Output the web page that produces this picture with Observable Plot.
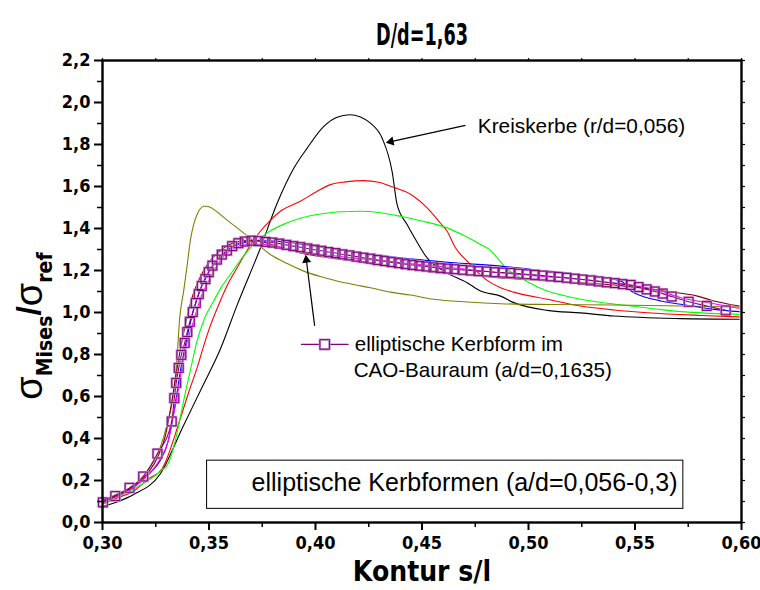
<!DOCTYPE html>
<html><head><meta charset="utf-8">
<script src="https://cdn.jsdelivr.net/npm/d3@7"></script>
<script src="https://cdn.jsdelivr.net/npm/@observablehq/plot@0.6"></script>
<style>body{margin:0;background:#fff}</style>
</head><body><div id="chart"></div>
<script>
// ---- data (x = Kontur s/l, y = sigma_Mises / sigma_ref) ----
const kreis_x = [0.3000,0.3075,0.3146,0.3271,0.3380,0.3467,0.3553,0.3632,0.3741,0.3820,0.3900,0.3961,0.4039,0.4098,0.4161,0.4211,0.4258,0.4313,0.4360,0.4383,0.4430,0.4469,0.4524,0.4602,0.4712,0.4775,0.4869,0.4931,0.5088,0.5245,0.5401,0.5715,0.5989];
const kreis_y = [0.076,0.100,0.133,0.231,0.461,0.643,0.825,1.035,1.306,1.520,1.690,1.783,1.886,1.929,1.942,1.931,1.902,1.830,1.670,1.515,1.419,1.349,1.260,1.197,1.142,1.102,1.078,1.047,1.010,0.998,0.983,0.971,0.968];

const red_x = [0.3000,0.3074,0.3146,0.3216,0.3279,0.3365,0.3404,0.3444,0.3475,0.3506,0.3553,0.3591,0.3632,0.3685,0.3741,0.3788,0.3835,0.3929,0.4008,0.4070,0.4141,0.4227,0.4296,0.4367,0.4446,0.4524,0.4587,0.4618,0.4657,0.4712,0.4790,0.4869,0.4931,0.5088,0.5245,0.5401,0.5558,0.5810,0.5989];
const red_y = [0.088,0.119,0.149,0.208,0.255,0.494,0.618,0.736,0.841,0.936,1.055,1.140,1.213,1.306,1.387,1.439,1.482,1.530,1.577,1.609,1.622,1.628,1.620,1.596,1.563,1.498,1.425,1.387,1.308,1.245,1.165,1.118,1.097,1.063,1.031,1.012,0.999,0.986,0.979];

const green_x = [0.3000,0.3074,0.3146,0.3224,0.3276,0.3310,0.3342,0.3365,0.3389,0.3412,0.3444,0.3478,0.3522,0.3558,0.3600,0.3647,0.3694,0.3773,0.3867,0.3929,0.4023,0.4117,0.4211,0.4305,0.4399,0.4493,0.4618,0.4704,0.4775,0.4822,0.4853,0.4874,0.4892,0.4925,0.4963,0.5024,0.5088,0.5165,0.5245,0.5362,0.5480,0.5597,0.5715,0.5856,0.5989];
const green_y = [0.095,0.126,0.160,0.207,0.247,0.285,0.390,0.499,0.618,0.722,0.865,0.969,1.055,1.121,1.181,1.249,1.308,1.379,1.427,1.449,1.469,1.480,1.482,1.475,1.458,1.437,1.403,1.363,1.324,1.295,1.260,1.235,1.213,1.188,1.165,1.131,1.102,1.081,1.063,1.045,1.031,1.017,1.004,0.996,0.991];

const olive_x = [0.3000,0.3074,0.3146,0.3224,0.3271,0.3303,0.3334,0.3350,0.3362,0.3381,0.3397,0.3412,0.3426,0.3444,0.3459,0.3475,0.3490,0.3506,0.3530,0.3553,0.3591,0.3632,0.3710,0.3788,0.3867,0.3945,0.4023,0.4101,0.4180,0.4258,0.4352,0.4446,0.4555,0.4712,0.4869,0.5104,0.5401,0.5715,0.5989];
const olive_y = [0.105,0.138,0.176,0.263,0.358,0.466,0.620,0.784,0.969,1.102,1.221,1.340,1.411,1.467,1.494,1.506,1.506,1.501,1.485,1.467,1.435,1.403,1.340,1.276,1.233,1.197,1.171,1.150,1.133,1.118,1.097,1.083,1.063,1.050,1.042,1.038,1.036,1.031,1.026];

const blue_x = [0.3000,0.3074,0.3144,0.3215,0.3271,0.3309,0.3332,0.3351,0.3370,0.3389,0.3412,0.3440,0.3469,0.3506,0.3553,0.3609,0.3671,0.3732,0.3812,0.3929,0.4164,0.4399,0.4634,0.4869,0.5088,0.5245,0.5401,0.5442,0.5470,0.5503,0.5558,0.5621,0.5715,0.5810,0.5871,0.5989];
const blue_y = [0.100,0.128,0.166,0.228,0.295,0.390,0.508,0.627,0.746,0.841,0.950,1.055,1.135,1.207,1.264,1.311,1.335,1.342,1.340,1.327,1.292,1.260,1.238,1.221,1.197,1.181,1.158,1.145,1.112,1.090,1.070,1.055,1.039,1.024,1.015,1.004];

const maroon_x = [0.3000,0.3074,0.3144,0.3215,0.3262,0.3295,0.3318,0.3337,0.3356,0.3375,0.3398,0.3426,0.3459,0.3497,0.3544,0.3600,0.3656,0.3718,0.3788,0.3859,0.3929,0.4164,0.4399,0.4634,0.4869,0.5088,0.5245,0.5433,0.5636,0.5793,0.5871,0.5989];
const maroon_y = [0.102,0.133,0.171,0.238,0.318,0.413,0.532,0.651,0.770,0.874,0.983,1.088,1.169,1.235,1.287,1.325,1.342,1.344,1.325,1.304,1.284,1.247,1.213,1.188,1.165,1.152,1.142,1.128,1.102,1.078,1.055,1.031];

const magenta_x = [0.3000,0.3074,0.3144,0.3215,0.3271,0.3309,0.3332,0.3351,0.3365,0.3393,0.3428,0.3459,0.3506,0.3569,0.3632,0.3694,0.3765,0.3835,0.3929,0.4164,0.4399,0.4634,0.4869,0.5088,0.5245,0.5433,0.5558,0.5621,0.5715,0.5871,0.5989];
const magenta_y = [0.100,0.128,0.166,0.228,0.304,0.390,0.508,0.603,0.690,0.841,0.960,1.064,1.165,1.268,1.311,1.325,1.323,1.311,1.292,1.261,1.237,1.214,1.189,1.171,1.158,1.135,1.118,1.102,1.070,1.042,1.020];

// CAO-Bauraum series (squares)
const cao_x = [0.3002,0.3060,0.3127,0.3191,0.3258,0.3325,0.3337,0.3346,0.3358,0.3370,0.3386,0.3398,0.3410,0.3424,0.3438,0.3452,0.3466,0.3483,0.3499,0.3516,0.3537,0.3560,0.3584,0.3609,0.3638,0.3668,0.3700,0.3732,0.3765,0.3797,0.3830,0.3863,0.3896,0.3929,0.3962,0.3995,0.4028,0.4061,0.4094,0.4126,0.4159,0.4192,0.4225,0.4258,0.4291,0.4324,0.4357,0.4390,0.4422,0.4455,0.4488,0.4521,0.4554,0.4587,0.4620,0.4653,0.4690,0.4728,0.4765,0.4803,0.4841,0.4878,0.4916,0.4953,0.4991,0.5029,0.5066,0.5104,0.5141,0.5179,0.5217,0.5254,0.5292,0.5329,0.5367,0.5405,0.5442,0.5480,0.5517,0.5555,0.5593,0.5630,0.5672,0.5752,0.5837,0.5926];
const cao_y = [0.096,0.126,0.165,0.219,0.328,0.481,0.592,0.665,0.736,0.798,0.855,0.907,0.955,1.002,1.045,1.088,1.126,1.159,1.192,1.223,1.252,1.276,1.295,1.316,1.330,1.338,1.342,1.340,1.336,1.333,1.328,1.322,1.316,1.311,1.305,1.299,1.294,1.288,1.283,1.277,1.272,1.266,1.261,1.256,1.250,1.245,1.240,1.235,1.230,1.226,1.222,1.219,1.215,1.211,1.209,1.206,1.203,1.200,1.197,1.195,1.192,1.190,1.188,1.185,1.182,1.179,1.176,1.172,1.169,1.165,1.161,1.157,1.153,1.148,1.144,1.140,1.135,1.131,1.121,1.110,1.100,1.090,1.076,1.051,1.031,1.010];

// ticks
const xMajor = [0.30,0.35,0.40,0.45,0.50,0.55,0.60];
const xMinor = [0.325,0.375,0.425,0.475,0.525,0.575];
const yMajor = [0,0.2,0.4,0.6,0.8,1.0,1.2,1.4,1.6,1.8,2.0,2.2];
const yMinor = [0.1,0.3,0.5,0.7,0.9,1.1,1.3,1.5,1.7,1.9,2.1];

// texts
const titleText = "D/d=1,63";
const xLabel = "Kontur s/l";
const kreisLabel = "Kreiskerbe (r/d=0,056)";
const caoLabel1 = "elliptische Kerbform im";
const caoLabel2 = "CAO-Bauraum (a/d=0,1635)";
const boxLabel = "elliptische Kerbformen (a/d=0,056-0,3)";

// ---- build ----
const rows = (xs, ys) => xs.map((x, i) => ({x, y: ys[i]}));
const fmtX = v => v.toFixed(2).replace(".", ",");
const fmtY = v => v.toFixed(1).replace(".", ",");
const tickFont = "'Liberation Sans Narrow','DejaVu Sans Condensed','Liberation Sans',sans-serif";
const curve = "monotone-x";

// annotation anchors (data coordinates)
const arrow1 = {x1: 0.4704, y1: 1.891, x2: 0.4354, y2: 1.814, rot: 257.6};
const arrow2 = {x1: 0.3996, y1: 0.936, x2: 0.3957, y2: 1.250, rot: 352.8};
const legendLine = [{x: 0.3934, y: 0.848}, {x: 0.4153, y: 0.848}];
const legendSym = [{x: 0.4043, y: 0.848}];
const box = [{x1: 0.3491, x2: 0.5727, y1: 0.065, y2: 0.2945}];

const series = [
  {d: rows(kreis_x, kreis_y), c: "#000000"},
  {d: rows(red_x, red_y), c: "#ff0000"},
  {d: rows(green_x, green_y), c: "#00ff00"},
  {d: rows(olive_x, olive_y), c: "#808000"},
  {d: rows(blue_x, blue_y), c: "#0000ff"},
  {d: rows(maroon_x, maroon_y), c: "#800000"},
  {d: rows(magenta_x, magenta_y), c: "#ff00ff"}
];
const cao = rows(cao_x, cao_y);

const plot = Plot.plot({
  width: 760, height: 590,
  marginLeft: 102, marginRight: 19, marginTop: 60, marginBottom: 68,
  style: {background: "white", fontFamily: "'Liberation Sans',Arial,sans-serif", overflow: "visible"},
  x: {domain: [0.3, 0.6]},
  y: {domain: [0, 2.2]},
  marks: [
    Plot.rect(box, {x1: "x1", x2: "x2", y1: "y1", y2: "y2", fill: "white", stroke: "black", strokeWidth: 1}),
    ...series.map(s => Plot.line(s.d, {x: "x", y: "y", stroke: s.c, strokeWidth: 1.1, curve})),
    Plot.line(cao, {x: "x", y: "y", stroke: "#800080", strokeWidth: 1.1, curve}),
    Plot.dot(cao, {x: "x", y: "y", symbol: "square", r: 5, stroke: "#c591c5", strokeWidth: 2.4, fill: "none"}),
    Plot.dot(cao, {x: "x", y: "y", symbol: "square", r: 5, stroke: "#800080", strokeWidth: 1, fill: "none"}),
    // axes
    Plot.axisX(xMajor, {tickSize: 8, tickPadding: 6, strokeWidth: 2, tickFormat: fmtX, label: null, fontSize: 18, fontWeight: "bold", fontFamily: tickFont}),
    Plot.axisX(xMinor, {tickSize: 5, strokeWidth: 1.5, tickFormat: () => "", label: null}),
    Plot.axisX(xMajor.concat(xMinor), {anchor: "top", tickSize: 3, strokeWidth: 1.2, tickFormat: () => "", label: null}),
    Plot.axisY(yMajor, {tickSize: 8, tickPadding: 4, strokeWidth: 2, tickFormat: fmtY, label: null, fontSize: 18, fontWeight: "bold", fontFamily: tickFont}),
    Plot.axisY(yMinor, {tickSize: 5, strokeWidth: 1.5, tickFormat: () => "", label: null}),
    Plot.axisY(yMajor.concat(yMinor), {anchor: "right", tickSize: 3, strokeWidth: 1.2, tickFormat: () => "", label: null}),
    Plot.frame({stroke: "black", strokeWidth: 2.4}),
    // annotations
    Plot.link([arrow1, arrow2], {x1: "x1", y1: "y1", x2: "x2", y2: "y2", stroke: "black", strokeWidth: 1.2}),
    Plot.dot([arrow1, arrow2], {x: "x2", y: "y2", symbol: "triangle2", r: 4.3, fill: "black", rotate: "rot"}),
    Plot.text([kreisLabel], {x: 0.4762, y: 1.886, text: d => d, textAnchor: "start", fontSize: 20.8, fill: "black"}),
    Plot.line(legendLine, {x: "x", y: "y", stroke: "#800080", strokeWidth: 1.1}),
    Plot.dot(legendSym, {x: "x", y: "y", symbol: "square", r: 5.4, stroke: "#c591c5", strokeWidth: 2.4, fill: "white"}),
    Plot.dot(legendSym, {x: "x", y: "y", symbol: "square", r: 5.4, stroke: "#800080", strokeWidth: 1, fill: "none"}),
    Plot.text([caoLabel1], {x: 0.4184, y: 0.850, text: d => d, textAnchor: "start", fontSize: 20.6, fill: "black"}),
    Plot.text([caoLabel2], {x: 0.4179, y: 0.722, text: d => d, textAnchor: "start", fontSize: 20.6, fill: "black"}),
    Plot.text([boxLabel], {x: 0.3700, y: 0.187, text: d => d, textAnchor: "start", fontSize: 25, fill: "black"}),
    // title and x label
    Plot.text([titleText], {frameAnchor: "top", dy: -38, text: d => d, fontSize: 31, fontWeight: "bold", fontFamily: tickFont, fill: "black"}),
    Plot.text([xLabel], {frameAnchor: "bottom", dy: 58, text: d => d, fontSize: 28, fontWeight: "bold", fontFamily: tickFont, fill: "black"})
  ]
});

document.getElementById("chart").appendChild(plot);

const svg = d3.select(plot);
// condense the title a little, like the reference
svg.selectAll("text").filter(function() { return this.textContent === titleText; })
  .attr("textLength", 92).attr("lengthAdjust", "spacingAndGlyphs");

// y-axis label with subscripts
const lab = svg.append("text")
  .attr("transform", "translate(42,326) rotate(-90)")
  .attr("text-anchor", "middle")
  .attr("fill", "black")
  .attr("font-family", "'Liberation Sans',Arial,sans-serif");
lab.append("tspan").attr("font-size", 38).text("σ");
lab.append("tspan").attr("font-size", 21).attr("font-weight", "bold").attr("font-family", tickFont).attr("dy", 10).text("Mises");
lab.append("tspan").attr("font-size", 34).attr("font-weight", "bold").attr("dy", -12).text("/");
lab.append("tspan").attr("font-size", 38).attr("dy", 2).text("σ");
lab.append("tspan").attr("font-size", 21).attr("font-weight", "bold").attr("font-family", tickFont).attr("dy", 10).text("ref");
</script>
</body></html>
